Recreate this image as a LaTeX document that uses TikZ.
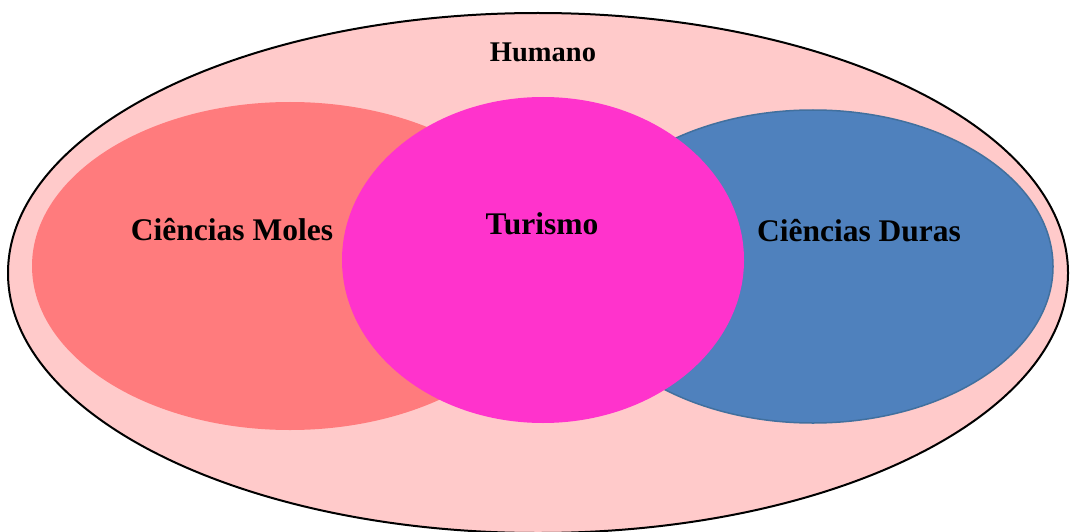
\documentclass[tikz,border=0pt]{standalone}
\usepackage{fontspec}
\setmainfont{Liberation Serif}
\definecolor{outerfill}{HTML}{FFCACA}
\definecolor{molesfill}{HTML}{FF7B7D}
\definecolor{turfill}{HTML}{FF33CC}
\definecolor{durasfill}{HTML}{4F81BD}
\definecolor{durasline}{HTML}{41709E}
\tikzset{
  lbl/.style={font=\bfseries\fontsize{31.5}{34}\selectfont, anchor=base, inner sep=0pt},
  lblsmall/.style={font=\bfseries\fontsize{28.5}{30}\selectfont, anchor=base, inner sep=0pt},
  blob/.style={draw=none}
}
\begin{document}
\begin{tikzpicture}[x=1pt,y=-1pt]
\useasboundingbox (0,0) rectangle (1070,532);
\clip (0,0) rectangle (1070,532);
% outer ellipse
\fill[outerfill] (538,273) ellipse [x radius=530, y radius=260];
\draw[line width=2pt] (538,273) ellipse [x radius=530, y radius=260];
% Ciencias Moles
\fill[molesfill] (290,266) ellipse [x radius=258, y radius=164];
% Ciencias Duras
\filldraw[fill=durasfill, draw=durasline, line width=1.5pt] (813,266.5) ellipse [x radius=240, y radius=156.5];
% Turismo
\fill[turfill] (543,260) ellipse [x radius=201, y radius=163];
% labels
\node[lblsmall] (humano) at (543,62) {Humano};
\node[lbl] (moles) at (232,240) {Ciências Moles};
\node[lbl] (turismo) at (542,234) {Turismo};
\node[lbl] (duras) at (859,241) {Ciências Duras};
\end{tikzpicture}
\end{document}
